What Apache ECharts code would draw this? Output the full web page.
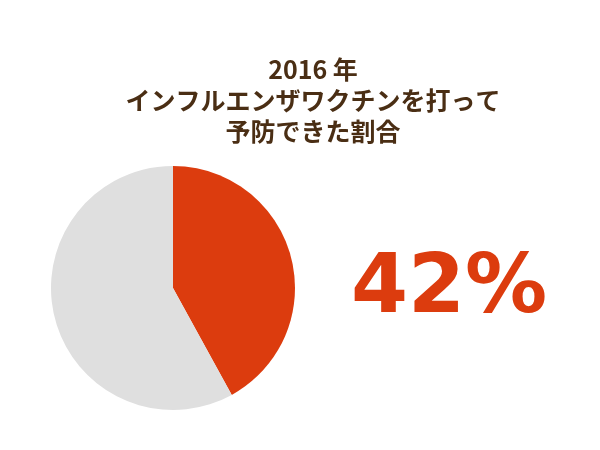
<!DOCTYPE html>
<html>
<head>
<meta charset="utf-8">
<script src="https://cdn.jsdelivr.net/npm/echarts@6/dist/echarts.min.js"></script>
<style>
  html, body { margin: 0; padding: 0; background: #fff; }
  #main { width: 600px; height: 450px; }
</style>
</head>
<body>
<div id="main"></div>
<script>
// data
const titleLines = ['2016 年', 'インフルエンザワクチンを打って', '予防できた割合'];
const categories = ['予防できた', 'その他'];
const values = [42, 58];
const colors = ['#dc3c0e', '#dfdfdf'];

const chart = echarts.init(document.getElementById('main'));

chart.setOption({
  animation: false,
  title: {
    text: titleLines.join('\n'),
    left: 308,
    top: 49,
    textAlign: 'center',
    textStyle: {
      fontFamily: '"Noto Sans CJK JP", sans-serif',
      fontWeight: 'bold',
      fontSize: 25,
      lineHeight: 31,
      color: '#4a2e14'
    }
  },
  graphic: [{
    type: 'text',
    left: 351,
    top: 250,
    style: {
      text: values[0] + '%',
      font: 'bold 82px "DejaVu Sans", sans-serif',
      fill: colors[0]
    }
  }],
  series: [{
    type: 'pie',
    center: [173, 288],
    radius: 122,
    startAngle: 90,
    clockwise: true,
    label: { show: false },
    labelLine: { show: false },
    emphasis: { disabled: true },
    data: categories.map((c, i) => ({
      name: c,
      value: values[i],
      itemStyle: { color: colors[i] }
    }))
  }]
});
</script>
</body>
</html>
